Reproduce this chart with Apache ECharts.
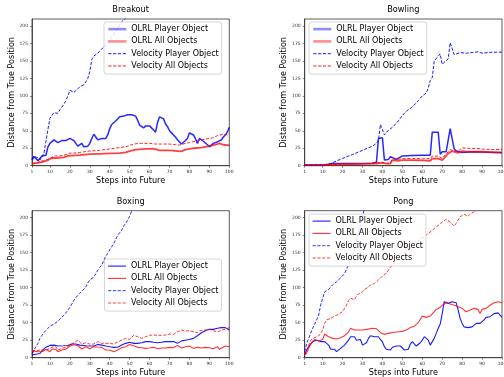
<!DOCTYPE html>
<html><head><meta charset="utf-8">
<script src="https://cdn.jsdelivr.net/npm/echarts@6/dist/echarts.min.js"></script>
<style>html,body{margin:0;padding:0;background:#fff}#c{width:504px;height:377px}</style>
</head><body><div id="c"></div>
<script>
// ---------- tick labels / categories ----------
const xTicks = [1,10,20,30,40,50,60,70,80,90,100];
const yTicks = [0,25,50,75,100,125,150,175,200];
const panelTitles = ['Breakout','Bowling','Boxing','Pong'];
const seriesNames = ['OLRL Player Object','OLRL All Objects','Velocity Player Object','Velocity All Objects'];

// ---------- Breakout ----------
const breakoutOlrlPlayer = [[1,8],[2,13],[3,13],[4,7],[5,6],[6,14],[8,15],[9,27],[10,32],[11,34],[12,37],[13,35],[14,33],[15,34],[16,36],[17,34],[18,36],[19,35],[20,39],[21,40],[22,36],[23,32],[24,28],[25,29],[26,32],[27,27],[28,25],[29,28],[30,32],[31,39],[32,45],[33,41],[34,37],[35,38],[36,39],[37,38],[38,39],[39,44],[40,53],[41,59],[42,60],[43,64],[44,67],[45,70],[46,70],[47,71],[48,72],[49,73],[50,74],[51,73],[52,72.5],[53,71],[54,65],[55,58],[56,56],[57,54],[58,57],[59,56],[60,57],[61,55],[62,51],[63,48],[64,62],[65,70],[66,72],[67,67],[68,60],[69,56],[70,50],[71,47],[72,44],[73,41],[74,37],[75,34],[76,31],[77,33],[78,36],[79,39],[80,47],[81,46],[82,44],[83,39],[84,32],[85,39],[86,37],[87,35],[88,33],[89,30],[90,27],[91,29],[92,32],[93,34],[94,34],[95,35],[96,37],[97,41],[98,44],[99,48],[100,55]];
const breakoutOlrlAll = [[1,3],[4,4],[7,6],[9,8],[11,11],[13,11],[17,12],[19,14],[25,15],[30,16.5],[35,17],[40,17.5],[45,18],[48,19],[50,21],[53,23],[58,24],[62,24.5],[65,22],[70,22],[74,21],[76,20.5],[78,23],[82,25],[86,26],[90,28],[93,30],[95,32],[97,30],[100,29]];
const breakoutVelPlayer = [[1,10],[2,14],[3,15],[4,11],[5,8],[6,9],[7,18],[8,35],[9,52],[10,68],[11,72],[12,76],[13,78],[14,75],[15,80],[16,84],[17,88],[18,93],[19,100],[20,108],[21,106],[22,105],[23,107],[24,110],[25,113],[26,114],[27,116],[28,120],[29,125],[30,135],[31,152],[32,157],[33,158],[34,161],[35,164],[36,167],[37,170],[38,173],[39,176],[40,180],[41,184],[42,188],[43,192],[44,197],[45,202],[46,206],[47,208],[48,211],[49,216]];
const breakoutVelAll = [[1,3],[3,4],[5,6],[8,8],[10,10.5],[11,13],[12,14],[15,14],[17,15],[18,16],[20,18],[22,18],[25,19],[30,21],[35,22],[40,24],[45,26],[48,27],[50,29],[52,31],[55,32],[60,32],[63,31],[66,31],[70,31],[73,30],[75,29.5],[78,32],[80,33],[83,35],[85,36],[88,38],[90,39],[92,40],[94,43],[95,44],[97,45],[98,44],[100,44]];

// ---------- Bowling ----------
const bowlingOlrlPlayer = [[1,1],[5,1],[10,1],[13,2],[15,3],[20,3],[25,3],[30,3],[35,3.5],[37,5],[38,39],[39,41],[40,40],[41,8],[42,6],[43,9],[44,13],[45,10.5],[47,9],[48,10.5],[50,14],[55,14.5],[60,15],[64,15],[65,48],[68,48],[69,16.5],[70,20],[72,20],[73,17.5],[74,53],[75,53],[76,24],[77,21],[80,19],[85,20],[90,19.5],[95,19],[100,18.5]];
const bowlingOlrlAll = [[1,0.5],[10,0.8],[15,1.5],[20,2],[30,2.5],[37,3],[38,5],[40,4],[42,3],[44,3],[45,8],[48,7],[50,8],[55,8],[60,7.5],[64,7],[65,10],[68,10],[69,9],[70,8],[71,11],[72,13],[73,17.5],[74,20],[75,21],[76,18.5],[78,18.5],[80,21],[82,20],[85,20],[90,20],[95,19.5],[100,19]];
const bowlingVelPlayer = [[1,1],[10,1],[12,2],[14,3],[15,5],[20,10.5],[25,16],[30,22],[35,28],[37,32],[38,36],[39,59],[40,60],[41,44],[42,48],[45,55],[48,64],[50,72],[52,78],[55,84],[58,93],[60,100],[62,104],[63,111],[64,122],[65,126],[66,150],[67,152],[69,160],[70,145],[71,148],[72,150],[73,153],[74,176],[75,177],[76,159],[77,160],[79,162],[80,160],[82,161],[85,162],[88,163],[90,161],[95,162.5],[100,162.5]];
const bowlingVelAll = [[1,1],[10,1.5],[15,2],[20,2.5],[30,3],[37,4],[38,5.7],[40,5],[42,3.3],[44,4],[45,10],[47,9],[50,10],[55,10.4],[60,10],[64,10],[65,13.7],[68,13.7],[69,12],[70,10.4],[71,13.7],[72,15],[73,20],[74,23],[75,23.7],[76,21],[78,21],[79,22],[80,25.6],[81,24.6],[85,24.6],[88,24.6],[90,23.7],[95,23.2],[100,23.2]];

// ---------- Boxing ----------
const boxingOlrlPlayer = [[1,4],[2,6],[3,5],[4,4.8],[5,6],[6,10],[7,12],[8,15],[9,16],[10,17.6],[11,19],[12,18],[14,16.7],[17,17],[19,17.5],[20,19],[21,19.5],[23,19.5],[24,19],[25,18],[26,17.6],[28,17],[30,16.7],[32,16.8],[33,17.6],[34,19],[35,19.5],[36,18],[38,16.7],[40,15.7],[42,14.8],[44,15],[45,16.5],[46,18],[48,20.5],[50,22],[52,20.5],[54,20.5],[56,21.4],[58,23],[60,23],[62,22],[64,21.4],[66,22],[68,23],[70,23],[72,23],[73,21.4],[74,20.5],[75,22],[76,24],[78,25],[80,26],[82,27.6],[84,31.4],[86,35.7],[88,38.6],[90,40.5],[92,40.5],[94,42],[96,43],[98,43],[99,40.5],[100,39.5]];
const boxingOlrlAll = [[1,6],[2,9.5],[3,11],[4,8.6],[5,7],[6,8.6],[7,10],[8,12],[9,10],[10,8.6],[11,12],[12,14.8],[13,12],[14,8.6],[15,10],[16,11],[17,9.5],[18,12],[19,14.8],[20,16.7],[21,17],[22,18.6],[23,19.5],[24,17],[25,14.3],[26,12.4],[27,13.3],[28,15.7],[29,14.3],[30,12.9],[31,14.8],[32,15.7],[33,13.8],[34,15.2],[35,17],[36,14.8],[37,12],[38,11],[39,12],[40,11],[41,9],[42,8.6],[43,10],[44,11],[45,13.3],[46,14.3],[47,12.9],[48,15.7],[49,17.6],[50,19],[51,18.6],[52,17],[53,15.7],[54,14.8],[55,13.8],[56,14.3],[58,13.3],[60,13.8],[62,14.8],[63,13.8],[64,12.9],[66,13.8],[68,13.8],[70,14.8],[72,14.3],[73,16.7],[74,17.6],[75,15.7],[76,13.8],[78,15.7],[80,16.7],[81,14.8],[82,13.3],[84,14.8],[86,13.8],[88,14.8],[89,12],[90,14.3],[92,12.9],[94,15.7],[95,12],[96,14.3],[98,16.7],[100,15.7]];
const boxingVelPlayer = [[1,6],[2,11],[3,16],[4,20.5],[5,27.6],[6,32],[7,36],[8,38.6],[9,42],[10,45],[11,46.7],[12,48],[13,50],[14,52],[15,55],[16,57],[17,60.5],[18,63],[19,68],[20,72],[21,76.7],[22,82],[23,86],[24,88],[25,92],[26,95],[27,97.6],[28,101],[29,107],[30,111],[31,113],[32,115],[33,120],[34,125],[35,129],[36,132],[37,138.6],[38,145],[39,149],[40,154],[41,158.6],[42,163],[43,169],[44,175],[45,177.6],[46,182],[47,188],[48,192],[49,196.7],[50,202],[51,209.5],[52,216]];
const boxingVelAll = [[1,10],[2,12],[3,10],[4,8.6],[5,11],[6,12],[7,10],[8,9],[9,12],[10,13.3],[11,14.8],[12,16.7],[13,15.7],[14,11],[15,12],[16,13.3],[17,12],[18,14.8],[19,16.7],[20,18],[21,19.5],[22,21.4],[23,24],[24,25],[25,23],[26,19.5],[27,19.5],[28,21.4],[29,20.5],[30,19.5],[31,20.5],[32,19.5],[33,21.4],[34,23],[35,22.4],[36,20.5],[38,20.5],[39,21.9],[40,20.5],[42,19.5],[43,21.4],[44,22.4],[46,25],[48,27.6],[49,26.7],[50,26],[51,28.6],[52,32],[53,31],[54,30],[55,28.6],[56,27.6],[57,29],[58,30],[60,32],[62,32.4],[64,32],[66,32],[68,32.4],[70,33.8],[72,33.3],[73,35.7],[74,37],[76,39.5],[77,37],[78,38],[80,38.6],[82,37],[84,35.7],[85,38.6],[86,37],[88,39.5],[90,40.5],[92,38.6],[94,36.7],[96,39.5],[97,37],[98,40.5],[100,43]];

// ---------- Pong ----------
const pongOlrlPlayer = [[1,4],[2,11],[3,15.7],[4,19.5],[5,23],[6,24],[7,25],[8,24],[9,23],[10,21.4],[11,23],[12,25],[13,18],[14,12],[15,10],[16,12],[17,8.6],[18,10],[19,13.3],[20,15.7],[21,18],[22,20.5],[23,25],[24,30],[25,32.4],[26,30],[27,25],[28,27.6],[29,26],[30,18],[31,16.7],[32,21.4],[33,27.6],[34,31.4],[35,32.4],[36,30],[37,31],[38,30],[39,26],[40,23],[41,15.7],[42,12],[43,11],[44,11],[45,14.8],[46,16.7],[47,16.7],[48,15.7],[49,16.7],[50,14.8],[51,11],[52,8.6],[53,12],[54,19.5],[55,23],[56,21.4],[57,16.7],[58,18],[59,21.4],[60,25],[61,30],[62,31],[63,25],[64,18],[65,19.5],[66,27.6],[67,34.8],[68,42],[69,48],[70,63],[71,80],[72,82],[73,77.6],[74,75],[75,80],[76,82],[77,78.6],[78,68],[79,56],[80,49],[81,44],[82,43],[83,43],[84,42],[85,44],[86,46.7],[87,49],[88,48],[89,49],[90,50],[91,54],[92,57.6],[93,57.6],[94,58.6],[95,61],[96,63],[97,62],[98,64],[99,62],[100,57.6]];
const pongOlrlAll = [[1,4],[2,7],[3,13.3],[4,19.5],[5,23],[6,26],[7,25],[8,24],[9,25],[10,26],[11,33.8],[12,31],[13,30],[14,29],[15,27.6],[16,27.6],[17,26.7],[18,27.6],[19,28.6],[20,30],[21,31.4],[22,33.8],[23,37],[24,42],[25,42],[26,39.5],[27,40.5],[28,39.5],[30,39.5],[31,40.5],[32,40.5],[33,41.4],[35,42],[36,42],[37,41.4],[38,39.5],[39,35.7],[40,33.8],[41,33.3],[42,33.8],[43,34.8],[44,35.7],[45,36],[46,36.7],[48,37],[50,37.6],[52,39.5],[53,40.5],[54,43],[55,44],[56,45],[57,47.6],[58,50],[59,52],[60,59.5],[61,58.6],[62,57.6],[63,58.6],[64,59.5],[65,62],[66,65.7],[67,69],[68,70.5],[69,72],[70,75],[71,77.6],[72,78.6],[73,77.6],[74,76.7],[75,75],[76,75],[77,73.8],[78,72.9],[79,72],[80,70.5],[81,68],[82,65.7],[83,67],[84,68],[85,67],[86,70.5],[87,72],[88,69],[89,63],[90,69],[91,70.5],[92,70.5],[93,73],[94,75],[95,75],[96,78.6],[97,80],[98,80],[99,79],[100,78.6]];
const pongVelPlayer = [[1,8.6],[2,20.5],[3,27.6],[4,34.8],[5,42],[6,48],[7,54],[8,61],[9,75],[10,85],[11,94],[12,96.7],[13,97.6],[14,101],[15,104],[16,106],[17,108.6],[18,111],[19,114],[20,115.7],[21,120],[22,126],[23,134],[24,137],[25,145],[26,154],[27,166],[28,177.6],[29,189.5],[30,201],[31,214]];
const pongVelAll = [[1,4],[2,6],[3,18],[4,25],[5,27.6],[6,28.6],[7,30],[8,31],[9,34.8],[10,39.5],[11,49],[12,54],[13,55],[14,56],[15,57.6],[16,59.5],[17,61],[18,62],[19,63],[20,65.7],[21,70.5],[22,75],[23,82],[24,85],[25,86],[26,83],[27,88],[28,91],[29,93],[30,94],[31,97.6],[32,99],[33,101],[34,104],[35,104],[36,106],[37,108.6],[38,111],[39,113],[40,116.7],[41,119.5],[42,121],[43,125],[44,129],[45,132],[46,135.7],[47,138.6],[48,141],[49,143],[50,145.7],[51,149],[52,152],[53,154.8],[54,157.6],[55,161],[56,163],[57,165.7],[58,167],[59,169],[60,170.5],[61,172.9],[62,175],[63,177.6],[64,180],[65,182],[66,184.8],[67,187],[68,188],[69,191],[70,194],[71,196.7],[72,197.6],[73,195],[74,193.8],[75,191],[76,188],[77,192],[78,196.7],[79,201.4],[80,203.8],[81,205],[82,203.8],[83,202],[84,205],[85,207],[86,208.6],[87,211],[88,214]];

const panelData = [
  [breakoutOlrlPlayer, breakoutOlrlAll, breakoutVelPlayer, breakoutVelAll],
  [bowlingOlrlPlayer, bowlingOlrlAll, bowlingVelPlayer, bowlingVelAll],
  [boxingOlrlPlayer, boxingOlrlAll, boxingVelPlayer, boxingVelAll],
  [pongOlrlPlayer, pongOlrlAll, pongVelPlayer, pongVelAll]
];

// ---------- layout / style ----------
const FONT = 'DejaVu Sans';
const BLUE = '#0000ff', RED = '#ff0000';
const DASH = [3.2, 1.6];
const grids = [
  {left: 32, top: 19, width: 197.3, height: 146.7},
  {left: 304.7, top: 19, width: 197.3, height: 146.7},
  {left: 32, top: 210.7, width: 197.3, height: 147},
  {left: 304.7, top: 210.7, width: 197.3, height: 147}
];
const legendPos = [{left: 104, top: 22}, {left: 309, top: 22}, {left: 104.5, top: 259}, {left: 309, top: 214}];
const heavy = [
  {color: BLUE, width: 1.5, type: 'solid', opacity: 0.85},
  {color: RED, width: 1.8, type: 'solid', opacity: 0.75},
  {color: BLUE, width: 1, type: DASH, opacity: 0.9},
  {color: RED, width: 1, type: DASH, opacity: 0.85}
];
const light = [
  {color: BLUE, width: 1.1, type: 'solid', opacity: 0.9},
  {color: RED, width: 1.1, type: 'solid', opacity: 0.8},
  {color: BLUE, width: 1, type: DASH, opacity: 0.85},
  {color: RED, width: 1, type: DASH, opacity: 0.8}
];
const panelStyles = [heavy, heavy, light, light];
const legendHeavy = [
  {color: 'rgba(0,0,255,0.45)', width: 2.6, type: 'solid', opacity: 1},
  {color: 'rgba(255,0,0,0.45)', width: 2.6, type: 'solid', opacity: 1},
  {color: BLUE, width: 1, type: DASH, opacity: 0.9},
  {color: RED, width: 1, type: DASH, opacity: 0.9}
];
const legendLight = [
  {color: BLUE, width: 1.1, type: 'solid', opacity: 0.9},
  {color: RED, width: 1.1, type: 'solid', opacity: 0.8},
  {color: BLUE, width: 1, type: DASH, opacity: 0.8},
  {color: RED, width: 1, type: DASH, opacity: 0.75}
];
const legendStyles = [legendHeavy, legendHeavy, legendLight, legendLight];
const hiddenSymbol = {color: 'rgba(0,0,0,0)', borderColor: 'rgba(0,0,0,0)', borderWidth: 0, opacity: 0};

const option = {
  animation: false,
  backgroundColor: '#fff',
  title: panelTitles.map((t, i) => ({
    text: t,
    left: grids[i].left + grids[i].width / 2,
    top: grids[i].top - 13,
    textAlign: 'center',
    padding: 0,
    textStyle: {fontFamily: FONT, fontSize: 8.2, fontWeight: 'normal', color: '#000'}
  })),
  grid: grids.map(g => Object.assign({
    show: true, borderColor: '#333', borderWidth: 0.8, backgroundColor: 'transparent',
    containLabel: false, outerBoundsMode: 'none'
  }, g)),
  xAxis: grids.map((g, i) => ({
    type: 'value', gridIndex: i, min: 1, max: 100,
    name: 'Steps into Future', nameLocation: 'middle', nameGap: 11,
    nameTextStyle: {fontFamily: FONT, fontSize: 8.1, color: '#000'},
    axisLine: {show: true, lineStyle: {color: '#333', width: 0.8}},
    axisTick: {show: true, length: 2, customValues: xTicks, lineStyle: {color: '#333', width: 0.6}},
    axisLabel: {customValues: xTicks, fontFamily: FONT, fontSize: 4.5, color: '#333', margin: 3.5},
    splitLine: {show: false}
  })),
  yAxis: grids.map((g, i) => ({
    type: 'value', gridIndex: i, min: 0, max: 210,
    name: 'Distance from True Position', nameLocation: 'middle', nameGap: 16,
    nameTextStyle: {fontFamily: FONT, fontSize: 8.1, color: '#000'},
    axisLine: {show: true, lineStyle: {color: '#333', width: 0.8}},
    axisTick: {show: true, length: 2, customValues: yTicks, lineStyle: {color: '#333', width: 0.6}},
    axisLabel: {customValues: yTicks, fontFamily: FONT, fontSize: 4.5, color: '#333', margin: 4},
    splitLine: {show: false}
  })),
  legend: legendPos.map((p, i) => ({
    orient: 'vertical', left: p.left, top: p.top,
    itemWidth: 18, itemHeight: 10, itemGap: 2.1,
    padding: [2, 3, 3, 3],
    backgroundColor: 'rgba(255,255,255,0.8)',
    borderColor: '#cccccc', borderWidth: 0.8, borderRadius: 2,
    selectedMode: false,
    textStyle: {fontFamily: FONT, fontSize: 8, color: '#000', lineHeight: 10.2, padding: 0},
    data: seriesNames.map((n, k) => ({name: n, lineStyle: legendStyles[i][k], itemStyle: hiddenSymbol}))
  })),
  series: []
};

panelData.forEach((arrs, i) => {
  arrs.forEach((d, k) => {
    option.series.push({
      type: 'line', name: seriesNames[k], xAxisIndex: i, yAxisIndex: i,
      data: d, symbol: 'none', showSymbol: false, clip: true,
      lineStyle: panelStyles[i][k], itemStyle: {color: panelStyles[i][k].color},
      emphasis: {disabled: true}
    });
  });
});

const chart = echarts.init(document.getElementById('c'), null, {renderer: 'canvas'});
chart.setOption(option);
</script>
</body></html>
